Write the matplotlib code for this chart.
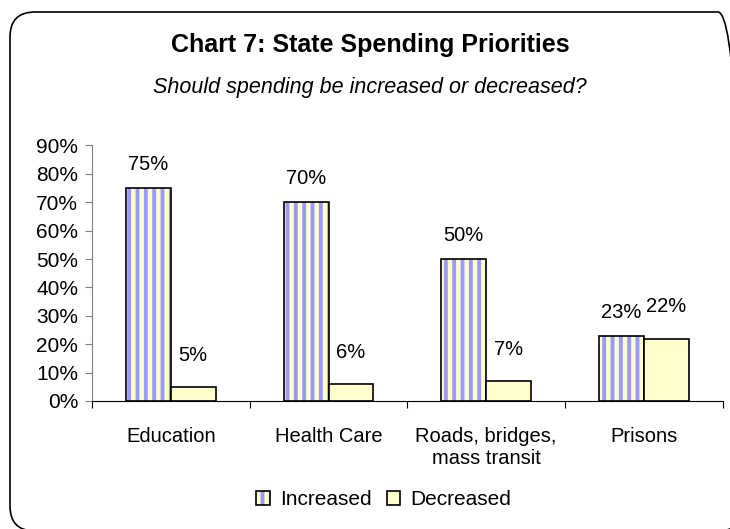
import matplotlib.pyplot as plt
import numpy as np
from matplotlib.patches import FancyBboxPatch, Patch
from matplotlib.transforms import IdentityTransform

plt.rcParams['font.family'] = ['Liberation Sans', 'DejaVu Sans']
plt.rcParams['hatch.linewidth'] = 2.8

# Data
categorias = ["Education", "Health Care", "Roads, bridges,\nmass transit", "Prisons"]
increased = [75, 70, 50, 23]
decreased = [5, 6, 7, 22]
series = ["Increased", "Decreased"]

yellow = "#FFFFCC"
blue = "#9999FF"

x = np.arange(len(categorias))
w = 0.285

fig = plt.figure(figsize=(7.3, 5.29), dpi=100)
ax = fig.add_axes([0.126, 0.242, 0.864, 0.483])

# barras "Increased": rayas verticales azul/amarillo + contorno negro
ax.bar(x - w / 2, increased, w, color=yellow, edgecolor=blue, hatch="||", linewidth=0)
ax.bar(x - w / 2, increased, w, fill=False, edgecolor="black", linewidth=1.2)
ax.bar(x + w / 2, decreased, w, color=yellow, edgecolor="black", linewidth=1.2)

for xi, v in zip(x - w / 2, increased):
    ax.annotate(f"{v}%", (xi, v), xytext=(0, 10), textcoords="offset points",
                ha="center", va="bottom", fontsize=14.5)
for xi, v in zip(x + w / 2, decreased):
    ax.annotate(f"{v}%", (xi, v), xytext=(0, 16), textcoords="offset points",
                ha="center", va="bottom", fontsize=14.5)

ax.set_xlim(-0.5, len(categorias) - 0.5)
ax.set_ylim(0, 90)
ax.set_yticks(range(0, 91, 10))
ax.set_yticklabels([f"{t}%" for t in range(0, 91, 10)], fontsize=15)

# ticks del eje x en los limites de categoria, etiquetas en el centro
ax.set_xticks(np.arange(-0.5, len(categorias), 1.0))
ax.set_xticklabels([])
ax.set_xticks(x, minor=True)
ax.set_xticklabels(categorias, minor=True, fontsize=14.5, va="top")
ax.tick_params(axis="x", which="minor", length=0, pad=19)
ax.tick_params(axis="x", which="major", length=5, color="black")
ax.tick_params(axis="y", length=5, color="#808080", pad=5)

for s in ["top", "right"]:
    ax.spines[s].set_visible(False)
ax.spines["left"].set_color("#808080")
ax.spines["bottom"].set_color("black")

fig.text(0.507, 0.915, "Chart 7: State Spending Priorities", ha="center", va="center",
         fontsize=18, fontweight="bold")
fig.text(0.507, 0.834, "Should spending be increased or decreased?", ha="center", va="center",
         fontsize=15.5, fontstyle="italic")

h_inc = (Patch(facecolor=yellow, edgecolor=blue, hatch="||", linewidth=0),
         Patch(fill=False, edgecolor="black", linewidth=1.2))
h_dec = Patch(facecolor=yellow, edgecolor="black", linewidth=1.2)
fig.legend([h_inc, h_dec], series, loc="center", bbox_to_anchor=(0.526, 0.055),
           ncol=2, frameon=False, fontsize=15, handlelength=0.65, handleheight=0.65,
           handletextpad=0.5, columnspacing=0.7)

# marco redondeado
fig.add_artist(FancyBboxPatch((10, -2), 733, 519, boxstyle="round,pad=0,rounding_size=25",
                              transform=IdentityTransform(), fill=False,
                              edgecolor="black", linewidth=1.2))

fig.savefig("out.png", dpi=100)
